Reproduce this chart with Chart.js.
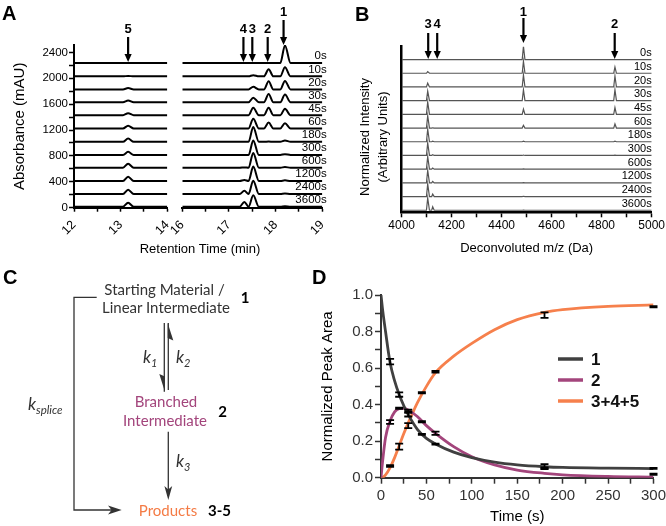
<!DOCTYPE html>
<html><head><meta charset="utf-8">
<script src="https://cdn.jsdelivr.net/npm/chart.js@4.4.1/dist/chart.umd.min.js"></script>
<style>
html,body{margin:0;padding:0;background:#fff;}
#wrap{position:relative;width:666px;height:526px;overflow:hidden;font-family:'Liberation Sans',Arial,sans-serif;background:#fff;}
canvas{position:absolute;}
.lbl{position:absolute;font-weight:bold;font-size:20px;line-height:20px;color:#000;}
#xtA{position:absolute;left:100px;top:242px;width:200px;text-align:center;font-size:13px;line-height:14px;color:#000;}
svg{position:absolute;}
</style></head><body>
<div id="wrap">
  <canvas id="cA1" width="170" height="260" style="left:0;top:0"></canvas>
  <canvas id="cA2" width="170" height="260" style="left:170px;top:0"></canvas>
  <canvas id="cB" width="326" height="260" style="left:340px;top:0"></canvas>
  <canvas id="cD" width="348" height="256" style="left:318px;top:270px"></canvas>
  <svg id="svgC" width="320" height="256" style="left:0;top:270px" xmlns="http://www.w3.org/2000/svg">
    <g font-family="Lato, 'Open Sans', sans-serif" font-size="15" fill="#333">
      <text x="164.5" y="25" text-anchor="middle">Starting Material /</text>
      <text x="166" y="42.7" text-anchor="middle">Linear Intermediate</text>
      <text x="245" y="33" text-anchor="middle" font-weight="bold" fill="#000">1</text>
      <text x="143" y="93" font-style="italic" font-size="17">k<tspan font-size="11" dy="4">1</tspan></text>
      <text x="176" y="93" font-style="italic" font-size="17">k<tspan font-size="11" dy="4">2</tspan></text>
      <text x="166" y="136.7" text-anchor="middle" fill="#a3457c">Branched</text>
      <text x="165" y="156" text-anchor="middle" fill="#a3457c">Intermediate</text>
      <text x="222.5" y="146.7" text-anchor="middle" font-weight="bold" fill="#000">2</text>
      <text x="176" y="196.7" font-style="italic" font-size="17">k<tspan font-size="11" dy="4">3</tspan></text>
      <text x="168" y="245.7" text-anchor="middle" fill="#f47b45">Products</text>
      <text x="219.5" y="245.7" text-anchor="middle" font-weight="bold" fill="#000">3-5</text>
      <text x="28" y="140" font-style="italic" font-size="17">k<tspan font-size="11.5" dy="4">splice</tspan></text>
    </g>
    <g stroke="#333" stroke-width="1.3" fill="none">
      <line x1="164.3" y1="53" x2="164.3" y2="121.7"/>
      <line x1="168.3" y1="53" x2="168.3" y2="120"/>
      <line x1="168.3" y1="161.7" x2="168.3" y2="226"/>
      <polyline points="96.7,27.3 74,27.3 74,240 113,240"/>
    </g>
    <g fill="#333" stroke="none">
      <polygon points="164.9,121.7 159.3,104 164.9,106.5"/>
      <polygon points="167.7,53 173.3,70.5 167.7,68"/>
      <polygon points="168.3,230 164.4,216 168.3,219.5 172.2,216"/>
      <polygon points="121.7,240 108,235.5 111.5,240 108,244.5"/>
    </g>
  </svg>
  <div class="lbl" style="left:2px;top:3px">A</div>
  <div class="lbl" style="left:355px;top:4px">B</div>
  <div class="lbl" style="left:3px;top:267px">C</div>
  <div class="lbl" style="left:312px;top:267px">D</div>
  <div id="xtA">Retention Time (min)</div>
</div>
<script>
// ---------------- DATA ----------------
const timeLabels = ['0s','10s','20s','30s','45s','60s','180s','300s','600s','1200s','2400s','3600s'];

// Panel A: HPLC traces (mAU), baseline offset per time point and peak heights
const aBaseline = [2235, 2030, 1828, 1630, 1430, 1225, 1018, 815, 618, 413, 212, 15];
const aPeak5 = [0, 6, 20, 26, 31, 41, 51, 48, 62, 67, 67, 62];     // RT 13.16
const aPeak4 = [0, 0, 0, 0, 0, 0, 0, 0, 5, 15, 50, 75];           // RT 17.33
const aPeak3 = [0, 18, 40, 70, 115, 150, 230, 225, 228, 222, 205, 178]; // RT 17.52
const aPeak2 = [0, 110, 125, 125, 115, 90, 5, 0, 0, 0, 0, 0];     // RT 17.85
const aPeak1 = [272, 140, 130, 120, 100, 80, 20, 12, 10, 10, 8, 8]; // RT 18.2
const aPeakRT = [13.16, 17.33, 17.52, 17.85, 18.2];
const aMarkName = ['5', '4', '3', '2', '1'];
const aMarkRT = [13.16, 17.31, 17.5, 17.83, 18.17];

// Panel B: MS traces (arbitrary units), baselines and peak heights
const bBaseline = [11.15, 10.15, 9.15, 8.15, 7.15, 6.15, 5.15, 4.15, 3.15, 2.15, 1.15, 0.15];
const bPeak3 = [0, 0.12, 0.28, 0.7, 0.9, 0.9, 0.92, 0.92, 0.92, 0.92, 0.92, 0.9]; // 4104
const bPeak4 = [0, 0, 0, 0, 0, 0.02, 0.04, 0.06, 0.08, 0.1, 0.18, 0.25];        // 4124
const bPeak1 = [0.97, 0.88, 0.88, 0.8, 0.38, 0.2, 0.04, 0.03, 0.02, 0.02, 0.02, 0.015]; // 4487
const bPeak2 = [0, 0.45, 0.8, 0.8, 0.5, 0.3, 0.04, 0.02, 0, 0, 0, 0];           // 4853
const bPeakMZ = [4104, 4124, 4487, 4853];
const bMarkName = ['3', '4', '1', '2'];
const bMarkMZ = [4106, 4142, 4487, 4852];

// Panel D: kinetics
const dCurveT = [0, 2, 5, 10, 15, 20, 25, 30, 40, 50, 60, 80, 100, 125, 150, 180, 200, 250, 300];
const dCurve1 = [1.0, 0.91, 0.8, 0.63, 0.53, 0.455, 0.395, 0.345, 0.265, 0.215, 0.185, 0.14, 0.11, 0.085, 0.07, 0.06, 0.056, 0.052, 0.05];
const dCurve2 = [0, 0.1, 0.22, 0.31, 0.36, 0.378, 0.38, 0.37, 0.335, 0.285, 0.243, 0.17, 0.115, 0.07, 0.042, 0.024, 0.016, 0.007, 0.003];
const dCurve3 = [0, 0.003, 0.015, 0.055, 0.11, 0.175, 0.24, 0.3, 0.41, 0.5, 0.575, 0.665, 0.735, 0.81, 0.865, 0.905, 0.92, 0.938, 0.946];
const dPointT = [10, 20, 30, 45, 60, 180, 300];
const dMean1 = [0.635, 0.455, 0.345, 0.237, 0.184, 0.062, 0.051];
const dErr1  = [0.015, 0.012, 0.01, 0.003, 0.003, 0.012, 0.003];
const dMean2 = [0.305, 0.38, 0.367, 0.306, 0.243, 0.052, 0.019];
const dErr2  = [0.01, 0.003, 0.006, 0.003, 0.009, 0.005, 0.003];
const dMean3 = [0.064, 0.17, 0.285, 0.465, 0.58, 0.89, 0.936];
const dErr3  = [0.005, 0.016, 0.014, 0.003, 0.005, 0.015, 0.003];
const dSeriesNames = ['1', '2', '3+4+5'];
const dColors = ['#404040', '#a3457c', '#f6804c'];

// ---------------- HELPERS ----------------
Chart.defaults.font.family = "'Liberation Sans', Arial, Helvetica, sans-serif";
Chart.defaults.color = '#000';
Chart.defaults.animation = false;
Chart.defaults.events = [];
Chart.defaults.plugins.legend.display = false;
Chart.defaults.plugins.tooltip.enabled = false;

function fixAxis(size, dim) {
  return function (s) { s[dim] = size; s.paddingLeft = 0; s.paddingRight = 0; s.paddingTop = 0; s.paddingBottom = 0; };
}
function peak(arr, c, h, wl, wr, b) {
  arr.push({x: c - wl, y: b}, {x: c, y: b + h}, {x: c + wr, y: b});
}
function traceALeft(i) {
  const b = aBaseline[i], d = [{x: 12, y: b}];
  peak(d, aPeakRT[0], aPeak5[i], 0.11, 0.12, b);
  d.push({x: 14, y: b});
  return d;
}
function traceARight(i) {
  const b = aBaseline[i], d = [{x: 16, y: b}];
  peak(d, aPeakRT[1], aPeak4[i], 0.1, 0.09, b);
  d.push({x: aPeakRT[2], y: b + aPeak3[i]}, {x: aPeakRT[2] + 0.12, y: b});
  peak(d, aPeakRT[3], aPeak2[i], 0.1, 0.1, b);
  peak(d, aPeakRT[4], aPeak1[i], 0.1, 0.12, b);
  d.push({x: 19, y: b});
  return d;
}
function traceB(i) {
  const b = bBaseline[i], d = [{x: 4000, y: b}];
  peak(d, bPeakMZ[0], bPeak3[i], 5, 7, b);
  peak(d, bPeakMZ[1], bPeak4[i], 4, 6, b);
  peak(d, bPeakMZ[2], bPeak1[i], 5, 6, b);
  peak(d, bPeakMZ[3], bPeak2[i], 5, 6, b);
  d.push({x: 5000, y: b});
  return d;
}
function arrowsPlugin(names, xs, st) {
  return {
    id: 'arrows',
    afterDraw(chart) {
      const ctx = chart.ctx, xs_ = chart.scales.x;
      ctx.save();
      names.forEach((n, i) => {
        const v = xs[i];
        if (v < xs_.min || v > xs_.max) return;
        const px = xs_.getPixelForValue(v);
        const g = st.tall.includes(n) ? st.hi : st.lo;
        ctx.fillStyle = '#000'; ctx.strokeStyle = '#000';
        ctx.font = 'bold ' + st.font + 'px ' + Chart.defaults.font.family;
        ctx.textAlign = 'center'; ctx.textBaseline = 'middle';
        ctx.fillText(n, px, g[0]);
        ctx.lineWidth = 2.2;
        ctx.beginPath(); ctx.moveTo(px, g[1]); ctx.lineTo(px, g[2] - 7); ctx.stroke();
        ctx.beginPath(); ctx.moveTo(px - 3.6, g[2] - 8); ctx.lineTo(px + 3.6, g[2] - 8); ctx.lineTo(px, g[2]); ctx.closePath(); ctx.fill();
      });
      ctx.restore();
    }
  };
}
function traceLabelsPlugin(baselines, dx, dy, fontSize) {
  return {
    id: 'traceLabels',
    afterDraw(chart) {
      const ctx = chart.ctx, ys = chart.scales.y, ca = chart.chartArea;
      ctx.save();
      ctx.fillStyle = '#000';
      ctx.font = fontSize + 'px ' + Chart.defaults.font.family;
      ctx.textAlign = 'right'; ctx.textBaseline = 'bottom';
      timeLabels.forEach((t, i) => ctx.fillText(t, ca.right + dx, ys.getPixelForValue(baselines[i]) - dy));
      ctx.restore();
    }
  };
}
const noGrid = (tl) => ({drawOnChartArea: false, color: '#000', tickLength: tl, tickWidth: 1.5});
const aXTicks = {stepSize: 0.5, autoSkip: false, minRotation: 45, maxRotation: 45, padding: 6, font: {size: 12.5},
                 callback: v => Number.isInteger(v) ? String(v) : ''};

// ---------------- PANEL A (left) ----------------
new Chart(document.getElementById('cA1'), {
  type: 'line',
  data: {datasets: timeLabels.map((t, i) => ({label: t, data: traceALeft(i), borderColor: '#000', borderWidth: 2, pointRadius: 0, cubicInterpolationMode: 'monotone', fill: false}))},
  options: {
    responsive: false,
    layout: {padding: {left: 0, right: 2.7, top: 45, bottom: 0}},
    scales: {
      x: {type: 'linear', min: 12, max: 14, afterFit: fixAxis(52.3, 'height'),
          border: {color: '#000', width: 2}, grid: noGrid(4), ticks: aXTicks},
      y: {type: 'linear', min: 0, max: 2514, afterFit: fixAxis(74, 'width'),
          border: {color: '#000', width: 2}, grid: noGrid(5),
          ticks: {stepSize: 200, includeBounds: false, autoSkip: false, padding: 1, font: {size: 11.5},
                  callback: v => v % 400 === 0 ? String(v) : ''},
          title: {display: true, text: 'Absorbance (mAU)', font: {size: 15}, padding: {top: 11, bottom: 0}}}
    }
  },
  plugins: [arrowsPlugin(aMarkName, aMarkRT, {tall: ['1'], hi: [12.5, 20, 45], lo: [29, 37, 62], font: 13})]
});

// ---------------- PANEL A (right) ----------------
new Chart(document.getElementById('cA2'), {
  type: 'line',
  data: {datasets: timeLabels.map((t, i) => ({label: t, data: traceARight(i), borderColor: '#000', borderWidth: 2, pointRadius: 0, cubicInterpolationMode: 'monotone', fill: false}))},
  options: {
    responsive: false,
    layout: {padding: {left: 12.3, right: 17.7, top: 45, bottom: 0}},
    scales: {
      x: {type: 'linear', min: 16, max: 19, afterFit: fixAxis(52.3, 'height'),
          border: {color: '#000', width: 2}, grid: noGrid(4), ticks: aXTicks},
      y: {type: 'linear', min: 0, max: 2514, display: false}
    }
  },
  plugins: [arrowsPlugin(aMarkName, aMarkRT, {tall: ['1'], hi: [12.5, 20, 45], lo: [29, 37, 62], font: 13}),
            traceLabelsPlugin(aBaseline, 4.4, 1, 11.5)]
});

// ---------------- PANEL B ----------------
new Chart(document.getElementById('cB'), {
  type: 'line',
  data: {datasets: timeLabels.map((t, i) => ({label: t, data: traceB(i), borderColor: '#555', borderWidth: 1.2, pointRadius: 0, tension: 0, fill: false}))},
  options: {
    responsive: false,
    layout: {padding: {left: 0, right: 14.3, top: 46.7, bottom: 0}},
    scales: {
      x: {type: 'linear', min: 4000, max: 5000, afterFit: fixAxis(47.7, 'height'),
          border: {color: '#000', width: 2.5}, grid: noGrid(5),
          ticks: {stepSize: 100, autoSkip: false, maxRotation: 0, padding: 1, font: {size: 12},
                  callback: v => v % 200 === 0 ? String(v) : ''},
          title: {display: true, text: 'Deconvoluted m/z (Da)', font: {size: 13}, padding: {top: 0, bottom: 4.2}}},
      y: {type: 'linear', min: 0, max: 12.09, afterFit: fixAxis(61.7, 'width'),
          border: {color: '#000', width: 2.5}, grid: {display: false}, ticks: {display: false}}
    }
  },
  plugins: [arrowsPlugin(bMarkName, bMarkMZ, {tall: ['1'], hi: [12, 18, 43], lo: [24, 33, 59], font: 13}),
            traceLabelsPlugin(bBaseline, 0, 1, 11),
            {id: 'bYTitle', afterDraw(chart) {
              const ctx = chart.ctx; ctx.save();
              ctx.translate(0, 137); ctx.rotate(-Math.PI / 2);
              ctx.fillStyle = '#000'; ctx.font = '13px ' + Chart.defaults.font.family;
              ctx.textAlign = 'center'; ctx.textBaseline = 'middle';
              ctx.fillText('Normalized Intensity', 0, 25);
              ctx.fillText('(Arbitrary Units)', 0, 43);
              ctx.restore();
            }}]
});

// ---------------- PANEL D ----------------
const curveData = (ys) => dCurveT.map((t, i) => ({x: t, y: ys[i]}));
const dCurves = [dCurve1, dCurve2, dCurve3];
const dMeans = [dMean1, dMean2, dMean3];
const dErrs = [dErr1, dErr2, dErr3];
new Chart(document.getElementById('cD'), {
  type: 'line',
  data: {datasets: dCurves.map((c, k) => ({label: dSeriesNames[k], data: curveData(c), borderColor: dColors[k], borderWidth: 2.8,
          pointRadius: 0, cubicInterpolationMode: 'monotone', fill: false}))},
  options: {
    responsive: false,
    layout: {padding: {left: 0, right: 12.5, top: 25, bottom: 0}},
    scales: {
      x: {type: 'linear', min: 0, max: 300, afterFit: fixAxis(48.3, 'height'),
          border: {color: '#333', width: 2}, grid: {drawOnChartArea: false, color: '#333', tickLength: 6, tickWidth: 1.5},
          ticks: {stepSize: 25, autoSkip: false, maxRotation: 0, padding: 3, color: '#333', font: {size: 15},
                  callback: v => v % 50 === 0 ? String(v) : ''},
          title: {display: true, text: 'Time (s)', color: '#000', font: {size: 15}, padding: {top: 0, bottom: 0.3}}},
      y: {type: 'linear', min: 0, max: 1, afterFit: fixAxis(63, 'width'),
          border: {color: '#333', width: 2}, grid: {drawOnChartArea: false, color: '#333', tickLength: 6, tickWidth: 1.5},
          ticks: {stepSize: 0.1, autoSkip: false, padding: 2, color: '#333', font: {size: 15},
                  callback: v => Math.abs(v * 5 - Math.round(v * 5)) < 1e-6 ? v.toFixed(1) : ''},
          title: {display: true, text: 'Normalized Peak Area', color: '#000', font: {size: 15}, padding: {top: 1, bottom: 0}}}
    }
  },
  plugins: [{
    id: 'errorBars',
    afterDatasetsDraw(chart) {
      const ctx = chart.ctx, xs = chart.scales.x, ys = chart.scales.y;
      ctx.save(); ctx.strokeStyle = '#000'; ctx.lineWidth = 1.8;
      dMeans.forEach((m, k) => dPointT.forEach((t, i) => {
        const px = xs.getPixelForValue(t), y0 = ys.getPixelForValue(m[i] - dErrs[k][i]), y1 = ys.getPixelForValue(m[i] + dErrs[k][i]);
        ctx.beginPath();
        ctx.moveTo(px, y0); ctx.lineTo(px, y1);
        ctx.moveTo(px - 4, y0); ctx.lineTo(px + 4, y0);
        ctx.moveTo(px - 4, y1); ctx.lineTo(px + 4, y1);
        ctx.stroke();
      }));
      ctx.restore();
    }
  }, {
    id: 'dLegend',
    afterDraw(chart) {
      const ctx = chart.ctx, ca = chart.chartArea;
      ctx.save();
      ctx.font = 'bold 17px ' + Chart.defaults.font.family;
      ctx.textBaseline = 'middle'; ctx.textAlign = 'left';
      chart.data.datasets.forEach((ds, k) => {
        const y = ca.top + 64 + k * 21;
        ctx.strokeStyle = ds.borderColor; ctx.lineWidth = 3.5;
        ctx.beginPath(); ctx.moveTo(ca.left + 177, y); ctx.lineTo(ca.left + 202, y); ctx.stroke();
        ctx.fillStyle = '#111';
        ctx.fillText(ds.label, ca.left + 210, y + 1);
      });
      ctx.restore();
    }
  }]
});
</script>
</body></html>
